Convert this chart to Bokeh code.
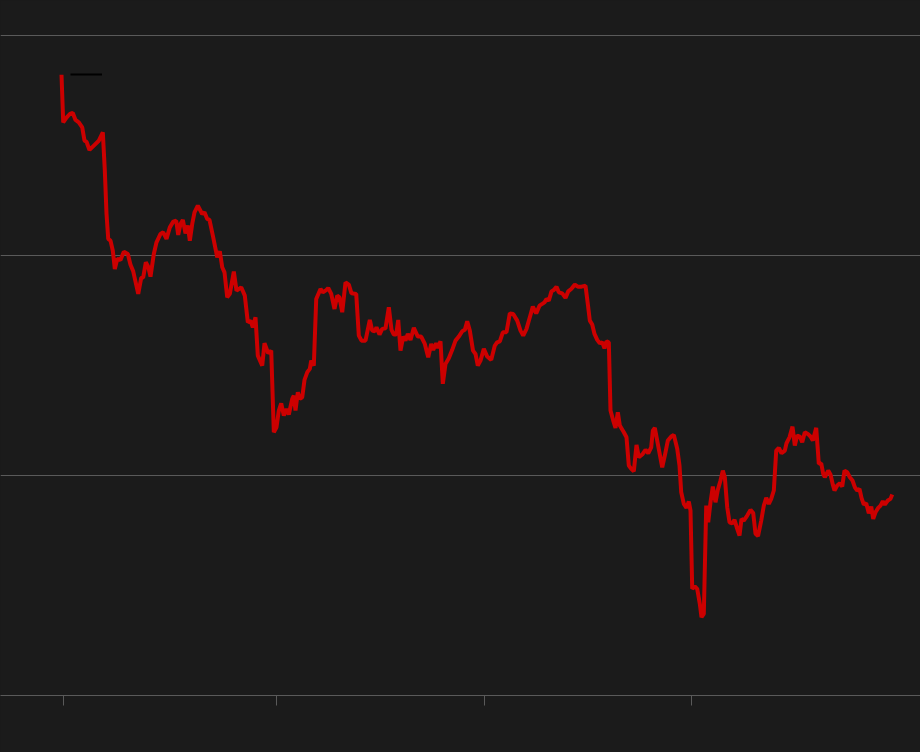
from bokeh.plotting import figure
from bokeh.models import FixedTicker, Range1d, CustomJSTickFormatter, Legend, LegendItem
from bokeh.embed import file_html
from bokeh.resources import INLINE

# week index since start of series
weeks = [0, 0.43, 1.25, 2.08, 2.83, 3.5, 4.33, 5.18, 5.75, 6.25, 7, 8.08, 9.33, 10.33, 10.83, 11.25, 11.68, 12.25, 12.83, 13.33,
         13.93, 14.75, 15.58, 16.58, 17.25, 17.93, 19.18, 19.93, 20.43, 21.08, 21.68, 22.25, 23.08, 23.75, 24.75, 25.43, 26.25, 27.08, 27.93, 28.68,
         29.18, 29.75, 30.33, 31, 31.58, 32.08, 32.68, 33.25, 34.08, 35.18, 35.75, 36.43, 37, 37.93, 38.93, 39.58, 40.18, 40.75, 41.43, 42.08,
         43.08, 43.75, 44.93, 45.83, 46.58, 47.25, 47.83, 48.5, 49.08, 50.18, 50.75, 51.68, 52.43, 53.08, 53.75, 54.33, 54.93, 55.58, 56.25, 56.83,
         57.68, 58.08, 58.5, 59.08, 59.58, 60.18, 60.75, 61.43, 62.08, 62.43, 63.08, 63.68, 64.75, 65.33, 66.25, 66.68, 67.43, 68.25, 68.93, 69.5,
         70.18, 71, 71.83, 72.5, 73.68, 74.33, 75, 76, 77.08, 77.68, 78.33, 78.75, 79.5, 80.18, 81, 81.83, 82.5, 83.08, 83.68, 84.18,
         84.75, 85.43, 86, 86.58, 87.25, 88.08, 89.08, 89.93, 90.83, 91.68, 92.43, 92.93, 93.68, 94.08, 94.75, 95.33, 96, 96.83, 97.68, 98.5,
         99.33, 100.18, 100.83, 101.43, 102.08, 102.88, 103.5, 104.08, 104.75, 105.58, 106.43, 107.43, 108.33, 108.93, 109.58, 110.33, 111.25, 112.08, 112.93, 113.93,
         114.75, 115.43, 116.25, 117.08, 117.83, 118.68, 119.5, 120.18, 120.75, 121.25, 121.83, 122.5, 123.08, 123.75, 124.33, 125.18, 126, 126.68, 127.43, 128.33,
         129.08, 130, 131, 131.58, 132.08, 132.68, 133.25, 133.93, 134.58, 135.18, 135.75, 136.25, 136.83, 137.25, 137.93, 138.5, 139.08, 139.58, 140.58, 141.25,
         141.83, 142.43, 143.08, 143.75, 144.33, 145.18, 146, 146.68, 147.43, 147.83, 148.33, 149.08, 150.18, 150.83, 151.58, 152.43, 153.08, 153.93, 154.5, 154.93,
         155.58, 156.25, 156.83, 157.25, 157.68, 158.33, 158.93, 159.58, 160, 160.58, 161.18, 161.68, 162.25, 162.83, 163.5, 164.08, 164.75, 165.33, 165.83, 166.43,
         167, 167.68, 168.25, 168.93, 169.5, 170, 170.58, 171.43, 172.25, 172.93, 173.5, 174.13, 174.93, 175.58, 176.18, 176.83, 177.43, 178.08, 178.68, 179.33,
         180, 180.83, 181.25, 182, 182.75, 183.33, 183.93, 184.58, 185.18, 185.83, 186.58, 187.25, 187.83, 188.68, 189.33, 189.93, 190.43, 190.83, 191.68, 192.25,
         192.83, 193.25, 193.93, 194.58, 195.18, 195.75, 196.43, 197.08, 197.75, 198.33, 198.93, 199.5, 200, 200.58, 201.18, 201.83, 202.43, 202.93, 203.5, 204.18,
         204.75, 205.33, 205.83, 206.58, 207.25, 207.68]

prices = [76.45, 72.12, 72.55, 72.88, 72.97, 72.34, 72.12, 71.66, 70.45, 70.36, 69.61, 70.0, 70.45, 71.21, 67.73, 63.82, 61.52, 61.36, 60.45, 58.79,
          59.70, 59.61, 60.36, 60.15, 59.18, 58.57, 56.52, 57.97, 58.03, 59.39, 59.0, 58.09, 60.15, 61.21, 61.97, 62.12, 61.52, 62.57, 63.09, 63.18,
          61.88, 62.88, 63.25, 62.03, 62.73, 61.36, 62.88, 63.94, 64.55, 63.79, 63.94, 63.34, 63.25, 61.66, 59.85, 60.39, 58.94, 58.48, 56.21, 56.52,
          58.55, 56.82, 57.12, 56.36, 53.94, 54.09, 53.48, 54.39, 50.91, 50.0, 52.03, 51.12, 51.36, 43.94, 44.39, 45.91, 46.57, 45.45, 46.06, 45.55,
          46.97, 47.27, 45.91, 47.57, 46.97, 47.12, 48.70, 49.39, 49.70, 50.45, 50.0, 56.06, 56.97, 56.66, 56.88, 57.06, 56.52, 55.15, 56.36, 56.21,
          54.85, 57.57, 57.36, 56.57, 56.52, 52.73, 52.27, 52.27, 54.15, 53.18, 53.12, 53.48, 52.82, 53.34, 53.39, 55.30, 53.25, 52.82, 52.82, 54.15,
          51.36, 52.64, 52.27, 52.88, 52.34, 53.43, 52.64, 52.64, 51.97, 50.75, 51.97, 51.43, 52.03, 51.61, 52.21, 48.34, 50.15, 50.66, 51.43, 52.27,
          52.64, 53.12, 53.25, 54.03, 53.18, 51.36, 51.06, 50.0, 50.45, 51.52, 50.82, 50.52, 51.82, 52.12, 52.21, 53.03, 53.03, 54.75, 54.70, 54.09,
          53.18, 52.73, 53.34, 54.39, 55.36, 54.75, 55.45, 55.61, 55.75, 56.06, 55.91, 56.75, 56.88, 57.18, 56.66, 56.57, 56.15, 56.75, 56.97, 57.36,
          57.18, 57.18, 57.27, 55.61, 54.09, 53.73, 52.88, 52.34, 52.03, 52.12, 51.57, 52.21, 52.12, 45.91, 45.0, 44.34, 45.75, 44.55, 43.94, 43.48,
          40.91, 40.61, 40.39, 42.79, 41.66, 41.91, 42.34, 42.03, 42.57, 44.09, 44.34, 42.88, 40.75, 41.82, 43.18, 43.55, 43.70, 42.43, 40.91, 38.48,
          37.43, 37.06, 37.64, 36.82, 29.70, 29.91, 29.70, 28.34, 27.12, 27.43, 37.27, 35.75, 37.57, 39.0, 37.57, 38.70, 39.55, 40.45, 39.85, 37.12,
          35.75, 35.66, 35.97, 35.15, 34.55, 36.06, 35.91, 36.36, 36.88, 36.59, 34.70, 34.50, 35.91, 37.27, 37.97, 37.43, 37.88, 38.64, 42.27, 42.52,
          42.03, 42.27, 42.94, 43.48, 44.45, 42.73, 43.64, 43.55, 43.03, 43.94, 43.79, 43.55, 43.18, 44.34, 41.06, 41.12, 40.15, 39.85, 40.45, 40.09,
          39.18, 38.64, 39.09, 39.30, 39.0, 40.45, 40.30, 39.85, 39.55, 38.94, 38.64, 38.79, 37.97, 37.36, 37.48, 36.57, 37.18, 36.06, 36.66, 37.06,
          37.27, 37.66, 37.36, 37.73, 37.88, 38.27]

year_ticks = [0.5, 53.75, 105.75, 157.5]
value_ticks = [20, 40, 60, 80]

BG = "#1b1b1b"
GRID = "#5a5a5a"

p = figure(width=920, height=752, output_backend="svg", toolbar_location=None,
           x_range=Range1d(-15.25, 214.75), y_range=Range1d(20, 83.2),
           y_axis_location=None, min_border_left=0, min_border_right=0,
           min_border_top=0, min_border_bottom=57)
p.background_fill_color = BG
p.border_fill_color = BG
p.outline_line_color = None
p.styles = {"background-color": BG}
p.xgrid.visible = False

p.ygrid.ticker = FixedTicker(ticks=value_ticks)
p.ygrid.grid_line_color = GRID
p.ygrid.grid_line_width = 1

ax = p.xaxis[0]
ax.ticker = FixedTicker(ticks=year_ticks)
ax.formatter = CustomJSTickFormatter(code="return ''")
ax.axis_line_color = GRID
ax.major_tick_line_color = GRID
ax.major_tick_out = 10
ax.major_tick_in = 0
ax.minor_tick_line_color = None

r = p.line(weeks, prices, line_color="#cc0000", line_width=4)
# series with no visible points: only its legend swatch is shown
marker = p.line(weeks[:1], [float("nan")], line_color="black", line_width=2)

legend = Legend(items=[LegendItem(label="\u00a0", renderers=[marker])],
                location="top_left", margin=70, padding=0, spacing=0,
                glyph_width=32, glyph_height=8, label_standoff=0,
                label_width=1, label_height=8, label_text_font_size="1px",
                background_fill_alpha=0, border_line_color=None)
p.add_layout(legend)

open("out.html", "w").write(file_html(p, INLINE))
